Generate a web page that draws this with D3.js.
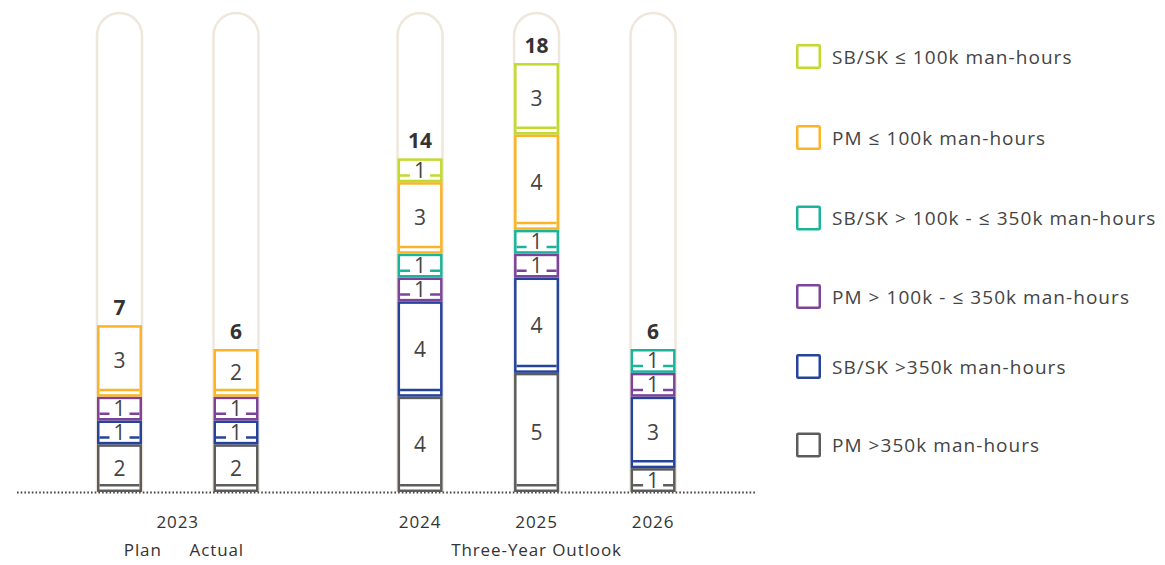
<!DOCTYPE html>
<html>
<head>
<meta charset="utf-8">
<script src="https://cdn.jsdelivr.net/npm/d3@7"></script>
<style>
  html, body { margin: 0; padding: 0; background: #fff; }
  svg { display: block; font-family: "Open Sans", "Noto Sans", sans-serif; }
</style>
</head>
<body>
<svg id="chart" width="1165" height="565"></svg>
<script>
// ---------- data ----------
const categories = ["Plan", "Actual", "2024", "2025", "2026"];
const seriesNames = [
  "PM >350k man-hours",
  "SB/SK >350k man-hours",
  "PM > 100k - \u2264 350k man-hours",
  "SB/SK > 100k - \u2264 350k man-hours",
  "PM \u2264 100k man-hours",
  "SB/SK \u2264 100k man-hours"
];
const pmOver350 = [2, 2, 4, 5, 1];
const sbskOver350 = [1, 1, 4, 4, 3];
const pm100to350 = [1, 1, 1, 1, 1];
const sbsk100to350 = [0, 0, 1, 1, 1];
const pmUnder100 = [3, 2, 3, 4, 0];
const sbskUnder100 = [0, 0, 1, 3, 0];
const seriesValues = [pmOver350, sbskOver350, pm100to350, sbsk100to350, pmUnder100, sbskUnder100];
const seriesColors = ["#5c5c5c", "#25439a", "#7b449a", "#1bb39a", "#fbb427", "#c2d92e"];
const yearLabels = ["2023", "2024", "2025", "2026"];
const subLabels = ["Plan", "Actual", "Three-Year Outlook"];

// ---------- layout ----------
const svg = d3.select("#chart");
const baseY = 492;
const barW = 45;
const sw = 2.5;
const y = d3.scaleLinear().domain([0, 20.1]).range([baseY, 13]);
const slot = categories.map((c, i) => i + (i >= 2 ? 0.58 : 0));
const xs = d3.scaleLinear().domain([0, 1]).range([119.5, 236]);
const x = c => xs(slot[categories.indexOf(c)]);

// table
const table = categories.map((c, i) => {
  const row = { cat: c };
  seriesNames.forEach((s, j) => row[s] = seriesValues[j][i]);
  return row;
});
const stack = d3.stack().keys(seriesNames)(table);
const totals = categories.map((c, i) => d3.sum(seriesValues, s => s[i]));

// background pills
const pillTop = y(20.1);
categories.forEach(c => {
  const cx = x(c), r = barW / 2;
  const p = d3.path();
  p.moveTo(cx - r, baseY);
  p.lineTo(cx - r, pillTop + r);
  p.arc(cx, pillTop + r, r, Math.PI, 0);
  p.lineTo(cx + r, baseY);
  svg.append("path").attr("d", p.toString())
    .attr("fill", "none").attr("stroke", "#efe7db").attr("stroke-width", sw);
});

// baseline dotted
svg.append("line").attr("x1", 17).attr("x2", 757).attr("y1", baseY + 0.5).attr("y2", baseY + 0.5)
  .attr("stroke", "#444").attr("stroke-width", 1.8).attr("stroke-dasharray", "1.6,2.1");

// segments
stack.forEach((layer, j) => {
  layer.forEach((d, i) => {
    const v = d[1] - d[0];
    if (v <= 0) return;
    const cx = x(categories[i]);
    const yTop = y(d[1]), yBot = y(d[0]);
    const g = svg.append("g");
    g.append("rect")
      .attr("x", cx - barW / 2 + sw / 2).attr("y", yTop + sw / 2)
      .attr("width", barW - sw).attr("height", yBot - yTop - sw)
      .attr("fill", "#fff").attr("stroke", seriesColors[j]).attr("stroke-width", sw);
    const lineY = yBot - 6.8;
    g.append("line").attr("x1", cx - barW / 2 + sw).attr("x2", cx + barW / 2 - sw)
      .attr("y1", lineY).attr("y2", lineY)
      .attr("stroke", seriesColors[j]).attr("stroke-width", sw);
    const cy = (yTop + yBot) / 2;
    const t = g.append("text").attr("x", cx).attr("y", cy + 7.5)
      .attr("text-anchor", "middle").attr("font-size", 21).attr("fill", "#444")
      .text(v);
    if (Math.abs(lineY - cy) < 9) {
      const bb = t.node().getBBox();
      g.insert("rect", "text").attr("x", bb.x - 4).attr("width", bb.width + 8)
        .attr("y", lineY - 2).attr("height", 4).attr("fill", "#fff");
    }
  });
});

// totals
categories.forEach((c, i) => {
  svg.append("text").attr("x", x(c)).attr("y", y(totals[i]) - 10)
    .attr("text-anchor", "middle").attr("font-size", 21).attr("font-weight", 700)
    .attr("fill", "#333").text(totals[i]);
});

// x labels
const xl = svg.append("g").attr("font-size", 17).attr("fill", "#333")
  .attr("text-anchor", "middle").attr("letter-spacing", 0.9);
const mid2023 = (x("Plan") + x("Actual")) / 2;
xl.append("text").attr("x", mid2023).attr("y", 528).text(yearLabels[0]);
["2024", "2025", "2026"].forEach((c, k) => xl.append("text").attr("x", x(c)).attr("y", 528).text(yearLabels[k + 1]));
xl.append("text").attr("x", mid2023 - 35).attr("y", 556).text(subLabels[0]);
xl.append("text").attr("x", mid2023 + 39).attr("y", 556).text(subLabels[1]);
xl.append("text").attr("x", x("2025")).attr("y", 556).text(subLabels[2]);

// legend
const legendRowY = [56.5, 137.5, 218, 296.5, 366.5, 445];
const legendOrder = d3.range(seriesNames.length).reverse();
legendOrder.forEach((j, k) => {
  const cy = legendRowY[k];
  svg.append("rect").attr("x", 796 + sw / 2).attr("y", cy - 12.5 + sw / 2)
    .attr("width", 25 - sw).attr("height", 25 - sw)
    .attr("fill", "#fff").attr("stroke", seriesColors[j]).attr("stroke-width", sw).attr("rx", 1);
  svg.append("text").attr("x", 832).attr("y", cy + 7)
    .attr("font-size", 19).attr("letter-spacing", 1.05).attr("fill", "#444").text(seriesNames[j]);
});
</script>
</body>
</html>
